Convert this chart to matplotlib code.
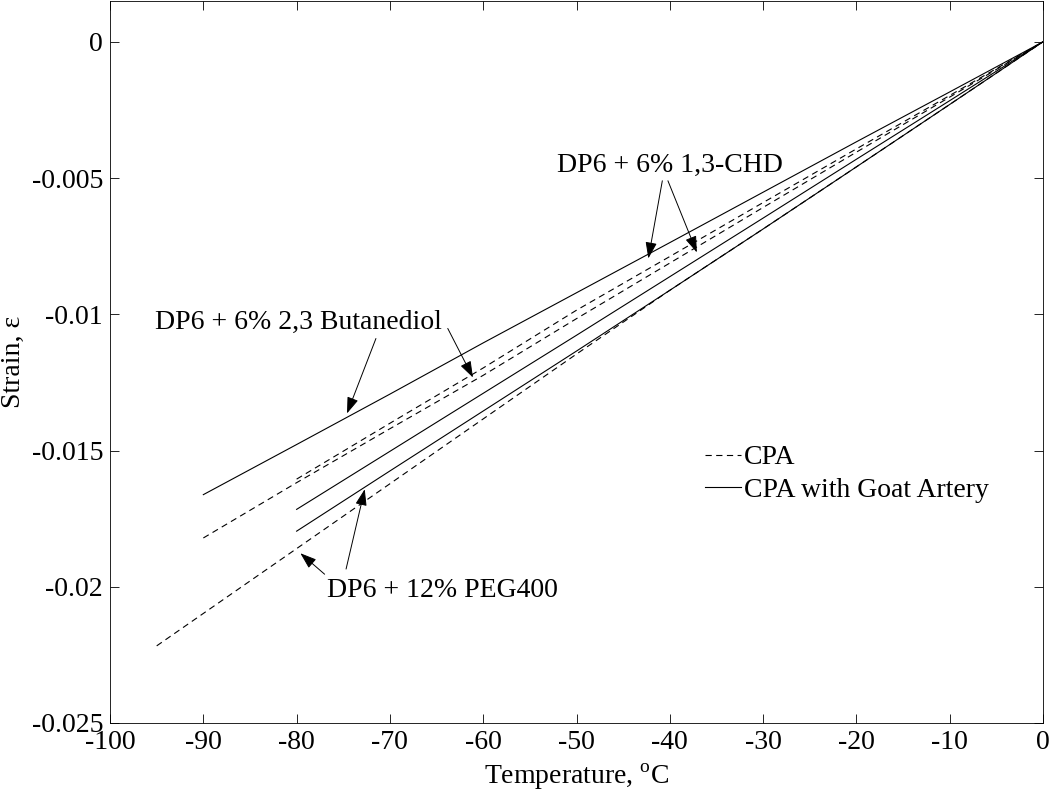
import numpy as np
import matplotlib
matplotlib.use('Agg')
import matplotlib.pyplot as plt

# temperatures, deg C
temp_90 = [-90, -80, -70, -60, -50, -40, -30, -20, -10, 0]
temp_80 = [-80, -70, -60, -50, -40, -30, -20, -10, 0]
temp_95 = [-95, -90, -80, -70, -60, -50, -40, -30, -20, -10, 0]

# strain
butanediol_goat = [-0.01662, -0.01478, -0.01293, -0.01105, -0.00921, -0.00737, -0.00552, -0.00367, -0.00184, 0.0]
butanediol_cpa = [-0.01821, -0.01618, -0.01420, -0.01224, -0.01016, -0.00812, -0.00608, -0.00405, -0.00203, 0.0]
chd_cpa = [-0.01605, -0.01400, -0.01197, -0.00985, -0.00788, -0.00590, -0.00393, -0.00197, 0.0]
chd_goat = [-0.01716, -0.01503, -0.01290, -0.01077, -0.00862, -0.00647, -0.00431, -0.00216, 0.0]
peg_goat = [-0.01796, -0.01575, -0.01355, -0.01135, -0.00912, -0.00687, -0.00459, -0.00230, 0.0]
peg_cpa = [-0.02217, -0.02098, -0.01860, -0.01622, -0.01384, -0.01146, -0.00912, -0.00687, -0.00459, -0.00230, 0.0]

xticks = [-100, -90, -80, -70, -60, -50, -40, -30, -20, -10, 0]
xtick_labels = ['-100', '-90', '-80', '-70', '-60', '-50', '-40', '-30', '-20', '-10', '0']
yticks = [-0.025, -0.02, -0.015, -0.01, -0.005, 0]
ytick_labels = ['-0.025', '-0.02', '-0.015', '-0.01', '-0.005', '0']

plt.rcParams['font.family'] = ['Liberation Serif', 'DejaVu Serif']
plt.rcParams['mathtext.fontset'] = 'custom'
plt.rcParams['mathtext.rm'] = 'Liberation Serif'
plt.rcParams['lines.scale_dashes'] = False

fig = plt.figure(figsize=(10.5, 7.93), dpi=100)
ax = fig.add_axes([0.1048, 0.0883, 0.8885, 0.9105])

dash = (4.5, 3.2)
lw = 0.8
ax.plot(temp_90, butanediol_goat, color='black', lw=lw, label='CPA with Goat Artery')
ax.plot(temp_90, butanediol_cpa, color='black', lw=lw, dashes=dash, label='CPA')
ax.plot(temp_80, chd_cpa, color='black', lw=lw, dashes=dash)
ax.plot(temp_80, chd_goat, color='black', lw=lw)
ax.plot(temp_80, peg_goat, color='black', lw=lw)
ax.plot(temp_95, peg_cpa, color='black', lw=lw, dashes=dash)

ax.set_xlim(-100, 0)
ax.set_ylim(-0.025, 0.0015)
ax.set_xticks(xticks)
ax.set_xticklabels(xtick_labels)
ax.set_yticks(yticks)
ax.set_yticklabels(ytick_labels)
ax.tick_params(direction='in', length=6.5, width=0.6, top=True, right=True,
               labelsize=20, pad=5)
for s in ax.spines.values():
    s.set_linewidth(0.6)

ax.set_xlabel('Temperature, $^{\\rm o}$C', fontsize=20, labelpad=5)
ax.set_ylabel('Strain, \u03b5', fontsize=20, labelpad=4)

# labels and arrows
ax.text(-95.2, -0.0103, 'DP6 + 6% 2,3 Butanediol', fontsize=20, va='center', ha='left')
ax.text(-52.1, -0.00455, 'DP6 + 6% 1,3-CHD', fontsize=20, va='center', ha='left')
ax.text(-76.7, -0.02013, 'DP6 + 12% PEG400', fontsize=20, va='center', ha='left')

arrows = [((-71.5, -0.01089), (-74.6, -0.01364)),
          ((-63.8, -0.01052), (-61.1, -0.01232)),
          ((-40.8, -0.00510), (-42.3, -0.00795)),
          ((-40.2, -0.00510), (-37.1, -0.00773)),
          ((-77.0, -0.01954), (-79.6, -0.01877)),
          ((-74.7, -0.01935), (-72.7, -0.01642))]
for tail, tip in arrows:
    ax.annotate('', xy=tip, xytext=tail,
                arrowprops=dict(arrowstyle='-|>,head_length=1.0,head_width=0.35',
                                color='black', lw=0.7, mutation_scale=10,
                                shrinkA=0, shrinkB=0))

handles, labels = ax.get_legend_handles_labels()
ax.legend([handles[1], handles[0]], [labels[1], labels[0]], frameon=False,
          fontsize=20, loc='upper left', bbox_to_anchor=(0.6375, 0.385),
          handlelength=1.3, handletextpad=0.1, labelspacing=0.25,
          borderaxespad=0, borderpad=0)

fig.savefig('out.png', dpi=100)
